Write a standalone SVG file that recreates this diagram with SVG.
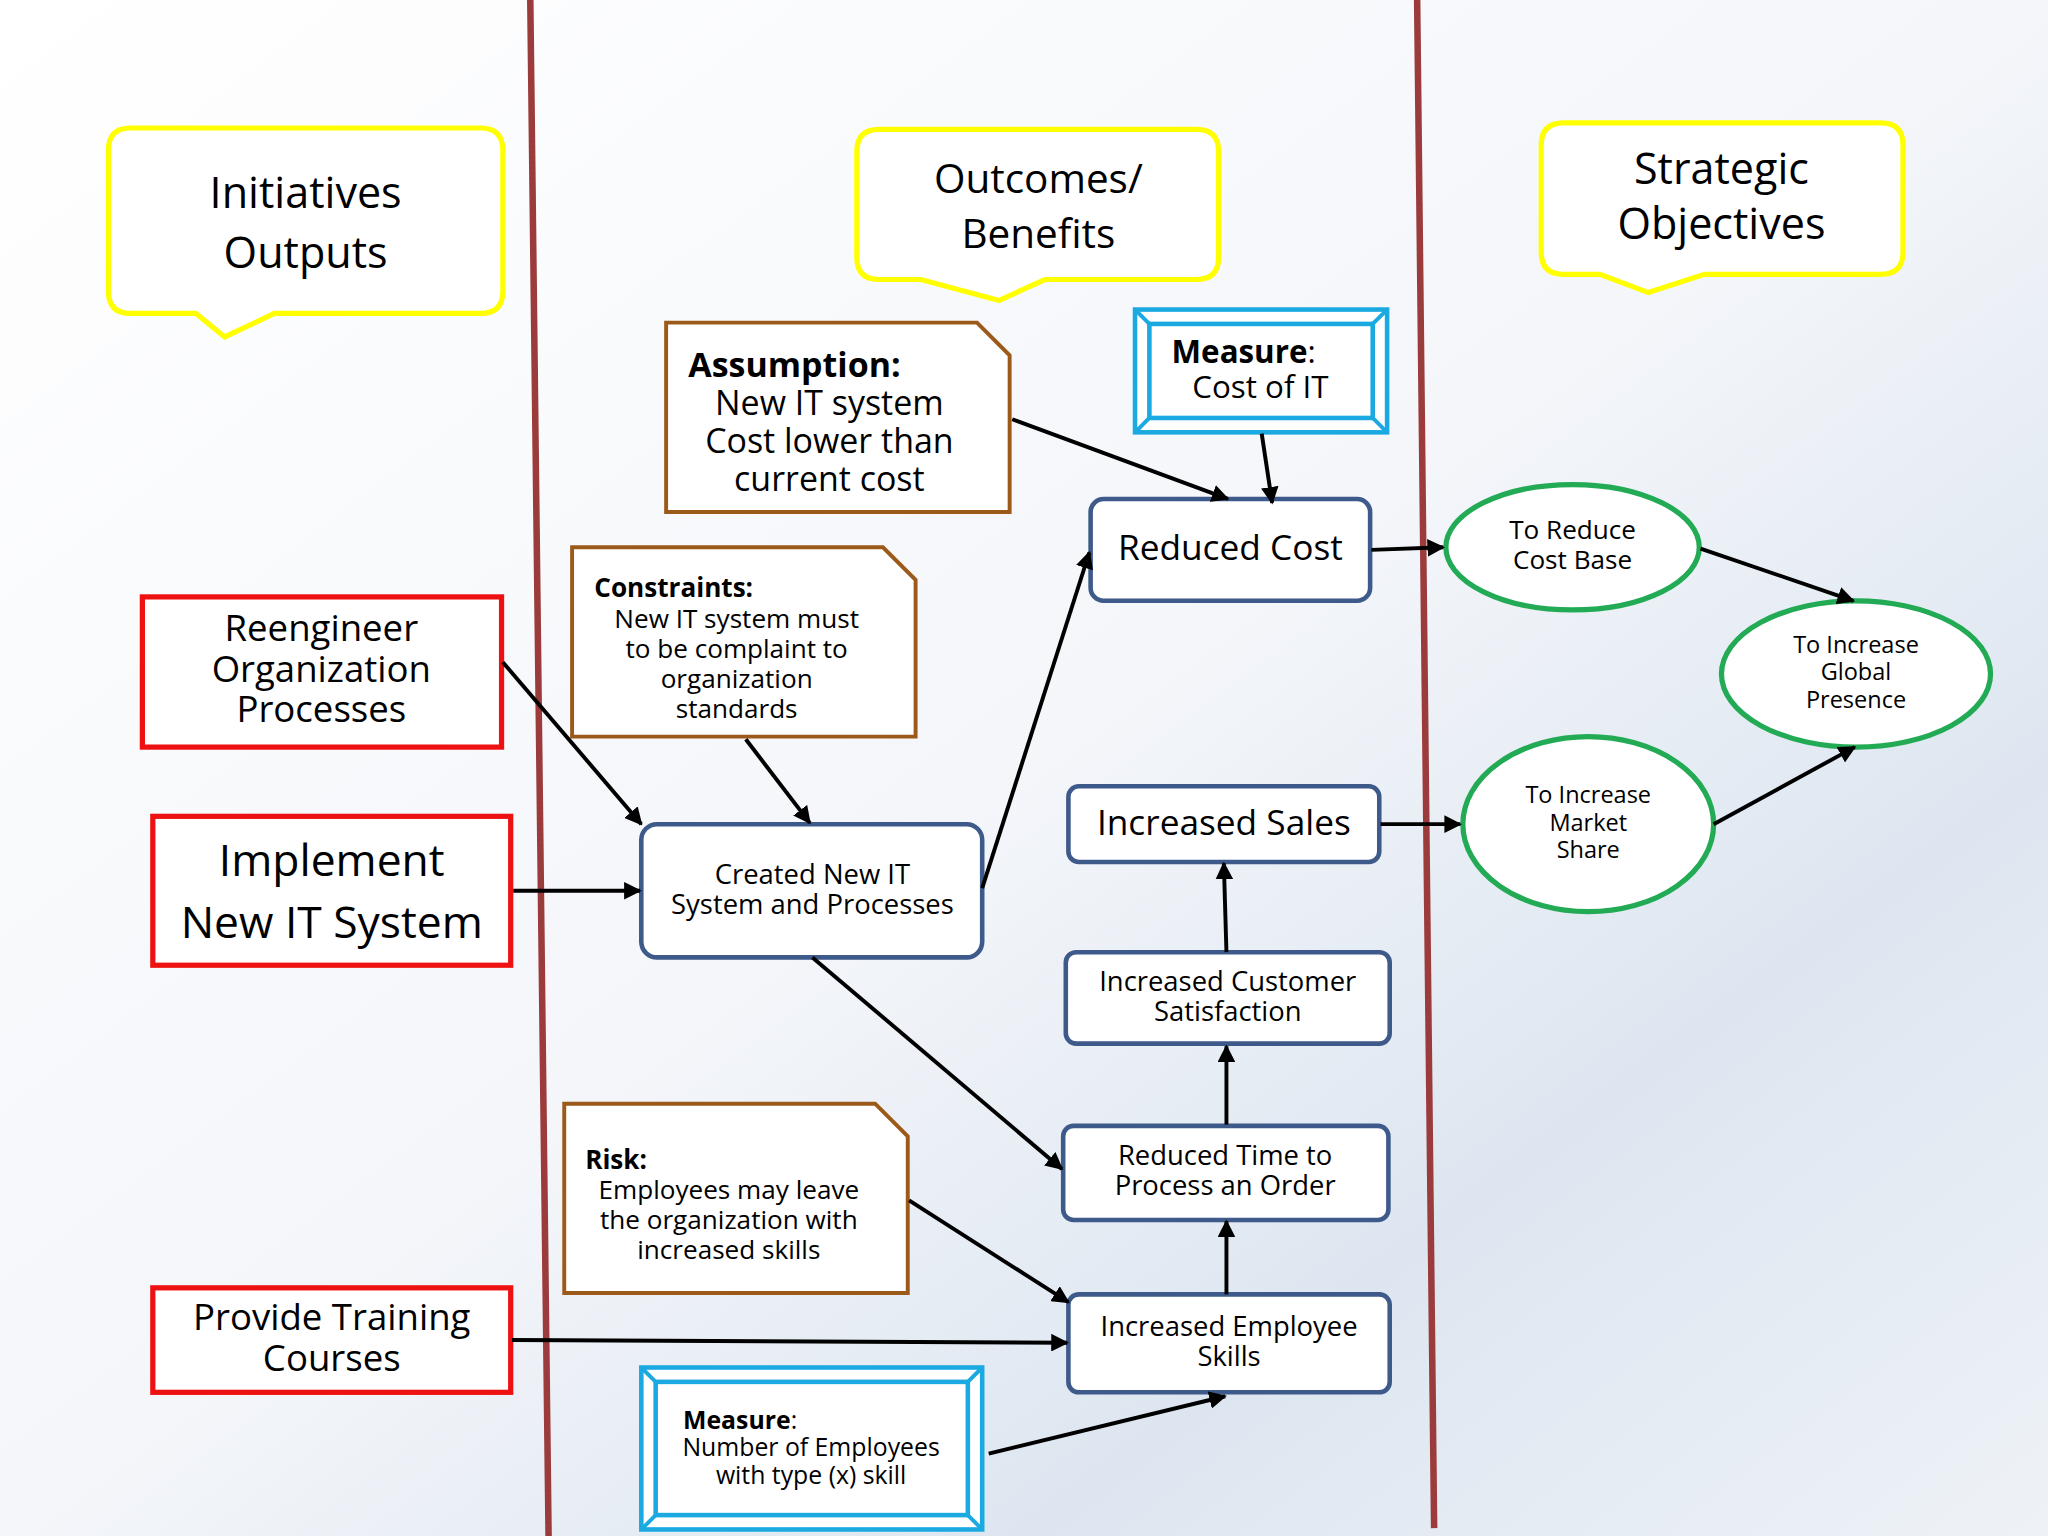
<svg xmlns="http://www.w3.org/2000/svg" width="2048" height="1536" viewBox="0 0 2048 1536">
<defs>
<linearGradient id="bg" x1="0" y1="0" x2="1" y2="1">
<stop offset="0" stop-color="#ffffff"/><stop offset="0.5" stop-color="#f4f6fa"/><stop offset="0.75" stop-color="#dde6f0"/><stop offset="1" stop-color="#eef2f7"/>
</linearGradient>
<marker id="ah" viewBox="0 0 10 10" refX="9" refY="5" markerWidth="4.5" markerHeight="4.5" orient="auto"><path d="M0,0 L10,5 L0,10 z" fill="#000"/></marker>
<style>
.t{font-family:"Open Sans","DejaVu Sans",sans-serif;fill:#000;text-anchor:middle}
.call{fill:#fff;stroke:#ffff00;stroke-width:4}
.red{fill:#fff;stroke:#ee1111;stroke-width:4}
.note{fill:#fff;stroke:#9c5a1a;stroke-width:3}
.blue{fill:#fff;stroke:#3d5a8a;stroke-width:3.5}
.meas{fill:#fff;stroke:#1ba9e1;stroke-width:3.5}
.oval{fill:#fff;stroke:#22aa55;stroke-width:4}
.div{stroke:#9b3b3b;stroke-width:5}
.c line{stroke:#000;stroke-width:3;marker-end:url(#ah)}
</style>
</defs>
<rect width="2048" height="1536" fill="url(#bg)"/>
<g transform="scale(1.30612)">
<line class="div" x1="406" y1="0" x2="420" y2="1176"/>
<line class="div" x1="1085" y1="0" x2="1098" y2="1170"/>

<g id="callout-initiatives"><path class="call" d="M100,98 H368 Q385,98 385,115 V223 Q385,240 368,240 H210 L172,258 L150,240 H100 Q83,240 83,223 V115 Q83,98 100,98Z"/>
<text class="t" font-size="33" x="234" y="159">Initiatives</text><text class="t" font-size="33" x="234" y="205">Outputs</text></g>
<g id="callout-outcomes"><path class="call" d="M673,99 H916 Q933,99 933,116 V197 Q933,214 916,214 H800 L765,230 L705,214 H673 Q656,214 656,197 V116 Q656,99 673,99Z"/>
<text class="t" font-size="31" x="795" y="148">Outcomes/</text><text class="t" font-size="31" x="795" y="190">Benefits</text></g>
<g id="callout-strategic"><path class="call" d="M1197,94 H1440 Q1457,94 1457,111 V193 Q1457,210 1440,210 H1305 L1262,224 L1225,210 H1197 Q1180,210 1180,193 V111 Q1180,94 1197,94Z"/>
<text class="t" font-size="33" x="1318" y="141">Strategic</text><text class="t" font-size="33" x="1318" y="183">Objectives</text></g>

<g id="reengineer"><rect class="red" x="109" y="457" width="275" height="115"/>
<text class="t" font-size="28" x="246" y="491">Reengineer</text><text class="t" font-size="28" x="246" y="522">Organization</text><text class="t" font-size="28" x="246" y="553">Processes</text></g>
<g id="implement"><rect class="red" x="117" y="625" width="274" height="114"/>
<text class="t" font-size="34" x="254" y="671">Implement</text><text class="t" font-size="34" x="254" y="718">New IT System</text></g>
<g id="training"><rect class="red" x="117" y="986" width="274" height="80"/>
<text class="t" font-size="28" x="254" y="1018">Provide Training</text><text class="t" font-size="28" x="254" y="1050">Courses</text></g>

<g id="assumption"><path class="note" d="M510,247 H748 L773,272 V392 H510Z"/>
<text class="t" font-size="26" x="527" y="289" text-anchor="start" font-weight="bold" style="text-anchor:start">Assumption:</text>
<text class="t" font-size="26" x="635" y="318">New IT system</text><text class="t" font-size="26" x="635" y="347">Cost lower than</text><text class="t" font-size="26" x="635" y="376">current cost</text></g>
<g id="constraints"><path class="note" d="M438,419 H676 L701,444 V564 H438Z"/>
<text class="t" font-size="20" x="455" y="457" font-weight="bold" style="text-anchor:start">Constraints:</text>
<text class="t" font-size="20" x="564" y="481">New IT system must</text><text class="t" font-size="20" x="564" y="504">to be complaint to</text><text class="t" font-size="20" x="564" y="527">organization</text><text class="t" font-size="20" x="564" y="550">standards</text></g>
<g id="risk"><path class="note" d="M432,845 H670 L695,870 V990 H432Z"/>
<text class="t" font-size="20" x="448" y="895" font-weight="bold" style="text-anchor:start">Risk:</text>
<text class="t" font-size="20" x="558" y="918">Employees may leave</text><text class="t" font-size="20" x="558" y="941">the organization with</text><text class="t" font-size="20" x="558" y="964">increased skills</text></g>

<g id="measure-cost"><rect class="meas" x="869" y="237" width="193" height="94"/><rect class="meas" x="880" y="248" width="171" height="72"/>
<path d="M869,237 L880,248 M1062,237 L1051,248 M869,331 L880,320 M1062,331 L1051,320" stroke="#1ba9e1" stroke-width="3"/>
<text class="t" font-size="24" x="897" y="278" style="text-anchor:start"><tspan font-weight="bold">Measure</tspan>:</text>
<text class="t" font-size="24" x="965" y="305">Cost of IT</text></g>
<g id="measure-employees"><rect class="meas" x="491" y="1047" width="261" height="124"/><rect class="meas" x="502" y="1058" width="239" height="102"/>
<path d="M491,1047 L502,1058 M752,1047 L741,1058 M491,1171 L502,1160 M752,1171 L741,1160" stroke="#1ba9e1" stroke-width="3"/>
<text class="t" font-size="19" x="523" y="1094" style="text-anchor:start"><tspan font-weight="bold">Measure</tspan>:</text>
<text class="t" font-size="19" x="621" y="1115">Number of Employees</text><text class="t" font-size="19" x="621" y="1136">with type (x) skill</text></g>

<g id="reduced-cost"><rect class="blue" x="835" y="382" width="214" height="78" rx="10"/><text class="t" font-size="27" x="942" y="429">Reduced Cost</text></g>
<g id="created"><rect class="blue" x="491" y="631" width="261" height="102" rx="12"/><text class="t" font-size="21" x="622" y="677">Created New IT</text><text class="t" font-size="21" x="622" y="700">System and Processes</text></g>
<g id="sales"><rect class="blue" x="818" y="602" width="238" height="58" rx="8"/><text class="t" font-size="27" x="937" y="639">Increased Sales</text></g>
<g id="satisfaction"><rect class="blue" x="816" y="729" width="248" height="70" rx="8"/><text class="t" font-size="21" x="940" y="759">Increased Customer</text><text class="t" font-size="21" x="940" y="782">Satisfaction</text></g>
<g id="reduced-time"><rect class="blue" x="814" y="862" width="249" height="72" rx="8"/><text class="t" font-size="21" x="938" y="892">Reduced Time to</text><text class="t" font-size="21" x="938" y="915">Process an Order</text></g>
<g id="skills"><rect class="blue" x="818" y="991" width="246" height="75" rx="8"/><text class="t" font-size="21" x="941" y="1023">Increased Employee</text><text class="t" font-size="21" x="941" y="1046">Skills</text></g>

<g id="reduce-cost-base"><ellipse class="oval" cx="1204" cy="419" rx="97" ry="48"/><text class="t" font-size="20" x="1204" y="413">To Reduce</text><text class="t" font-size="20" x="1204" y="436">Cost Base</text></g>
<g id="global"><ellipse class="oval" cx="1421" cy="516" rx="103" ry="56"/><text class="t" font-size="18" x="1421" y="500">To Increase</text><text class="t" font-size="18" x="1421" y="521">Global</text><text class="t" font-size="18" x="1421" y="542">Presence</text></g>
<g id="market"><ellipse class="oval" cx="1216" cy="631" rx="96" ry="67"/><text class="t" font-size="18" x="1216" y="615">To Increase</text><text class="t" font-size="18" x="1216" y="636">Market</text><text class="t" font-size="18" x="1216" y="657">Share</text></g>

<g id="connectors" class="c">
<line x1="775" y1="321" x2="940" y2="382"/>
<line x1="966" y1="332" x2="974" y2="385"/>
<line x1="1050" y1="421" x2="1105" y2="419"/>
<line x1="1302" y1="420" x2="1419" y2="460"/>
<line x1="1312" y1="631" x2="1420" y2="572"/>
<line x1="1057" y1="631" x2="1118" y2="631"/>
<line x1="385" y1="507" x2="491" y2="631"/>
<line x1="571" y1="566" x2="620" y2="630"/>
<line x1="393" y1="682" x2="490" y2="682"/>
<line x1="752" y1="680" x2="834" y2="423"/>
<line x1="622" y1="733" x2="813" y2="895"/>
<line x1="939" y1="729" x2="937" y2="661"/>
<line x1="939" y1="861" x2="939" y2="801"/>
<line x1="939" y1="991" x2="939" y2="935"/>
<line x1="696" y1="919" x2="818" y2="997"/>
<line x1="392" y1="1026" x2="817" y2="1028"/>
<line x1="757" y1="1113" x2="938" y2="1069"/>
</g>
</g>
</svg>
